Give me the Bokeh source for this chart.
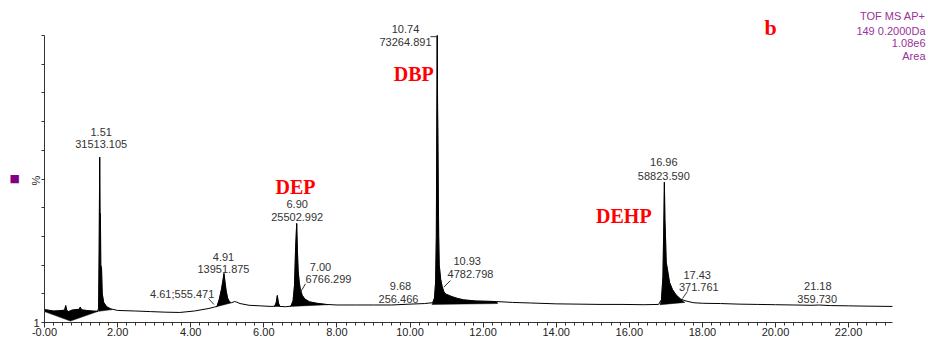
import numpy as np
from bokeh.plotting import figure
from bokeh.models import Range1d, FixedTicker, Label, NumeralTickFormatter
from bokeh.embed import file_html
from bokeh.resources import INLINE

# ---- chromatogram trace (retention time, relative intensity %) ----
trace_t = [0.00, 0.10, 0.25, 0.40, 0.55, 0.58, 0.61, 0.66, 0.75, 0.85, 0.95, 0.98, 1.01,
           1.15, 1.30, 1.45, 1.48, 1.495, 1.51, 1.52, 1.53, 1.54, 1.56, 1.58, 1.62, 1.70,
           1.80, 2.00, 2.50, 2.90, 3.30, 3.70, 4.10, 4.50, 4.65, 4.72, 4.78, 4.84, 4.88,
           4.91, 4.94, 4.97, 5.01, 5.06, 5.12, 5.20, 5.26, 5.35, 5.60, 5.90, 6.20, 6.30,
           6.34, 6.37, 6.40, 6.44, 6.60, 6.74, 6.80, 6.84, 6.87, 6.90, 6.92, 6.94, 6.97,
           7.00, 7.05, 7.12, 7.25, 7.45, 7.70, 8.00, 8.50, 9.00, 9.50, 10.00, 10.40, 10.62,
           10.67, 10.70, 10.72, 10.735, 10.745, 10.755, 10.765, 10.775, 10.785, 10.80,
           10.84, 10.88, 10.93, 11.00, 11.15, 11.30, 11.46, 11.80, 12.37, 12.80, 13.30,
           14.00, 14.60, 15.20, 15.80, 16.40, 16.80, 16.88, 16.92, 16.945, 16.96, 16.975,
           16.99, 17.01, 17.05, 17.10, 17.18, 17.28, 17.40, 17.55, 17.75, 18.00, 18.50,
           19.00, 19.50, 20.00, 20.50, 21.00, 21.18, 21.50, 22.00, 22.50, 23.20]
trace_pct = [4.5, 4.3, 4.0, 4.1, 4.3, 5.9, 4.2, 3.8, 4.3, 4.5, 4.6, 5.4, 4.4,
             4.2, 4.0, 3.9, 5.0, 25.0, 57.6, 38.0, 38.0, 20.0, 19.0, 10.0, 7.0, 5.5,
             4.8, 4.2, 4.0, 3.8, 3.6, 3.5, 4.0, 4.9, 5.4, 5.6, 8.0, 11.5, 14.5,
             17.1, 14.0, 11.0, 8.5, 7.2, 6.9, 7.3, 7.1, 6.6, 6.0, 5.8, 5.6, 5.7,
             7.0, 9.4, 6.8, 5.6, 5.5, 5.7, 7.5, 13.0, 26.0, 34.5, 25.0, 18.0, 14.0,
             11.5, 9.5, 8.2, 7.2, 6.7, 6.3, 6.1, 6.1, 6.1, 6.1, 6.4, 6.6, 6.9,
             8.5, 14.0, 30.0, 75.0, 100.0, 75.0, 62.0, 45.0, 30.0, 20.0,
             15.0, 12.5, 10.6, 9.8, 9.0, 8.4, 7.9, 7.5, 7.3, 7.0, 6.8,
             6.5, 6.4, 6.3, 6.3, 6.2, 6.3, 8.0, 16.0, 35.0, 48.9, 36.0,
             30.0, 21.0, 18.0, 14.0, 11.5, 9.6, 8.2, 7.5, 6.9, 6.7, 6.6,
             6.4, 6.3, 6.2, 6.1, 6.0, 6.1, 5.9, 5.8, 5.7, 5.6]

# integrated areas: baseline anchor points (time, %)
fill_base_t = [[0.00, 0.71, 1.47], [1.48, 1.85], [4.70, 5.10], [6.28, 6.45],
               [6.72, 7.75], [10.60, 12.40], [16.84, 17.52]]
fill_base_v = [[3.8, 0.5, 3.9], [3.9, 4.5], [5.5, 6.8], [5.6, 5.6],
               [5.6, 6.2], [6.3, 6.6], [6.2, 7.0]]

# peak annotations: text, time position, % position
ann_text = ["1.51", "31513.105", "4.91", "13951.875", "4.61;555.471",
            "6.90", "25502.992", "7.00", "6766.299", "10.74", "73264.891",
            "10.93", "4782.798", "9.68", "256.466", "16.96", "58823.590",
            "17.43", "371.761", "21.18", "359.730"]
ann_t = [1.551, 1.551, 4.897, 4.897, 3.767, 6.914, 6.914, 7.551, 7.770, 9.877, 9.877,
         11.565, 11.655, 9.740, 9.685, 16.944, 16.944, 17.858, 17.901, 21.157, 21.141]
ann_y = [66.3, 62.3, 22.75, 18.71, 10.0, 41.36, 36.69, 19.27, 15.23, 102.3, 97.66,
         21.6, 16.97, 12.65, 8.26, 55.85, 51.22, 16.38, 12.37, 12.89, 8.26]

# leader lines (from label to peak)
lead_t0 = [4.487, 7.141, 11.108, 17.59, 10.56]
lead_y0 = [8.36, 13.48, 14.63, 10.8, 99.6]
lead_t1 = [4.637, 7.004, 10.925, 17.456, 10.745]
lead_y1 = [6.27, 10.56, 12.3, 8.36, 99.6]

# compound names
cmp_text = ["DEP", "DBP", "DEHP", "b"]
cmp_t = [6.867, 10.104, 15.85, 19.863]
cmp_y = [47.14, 86.66, 37.28, 102.8]

info_lines = ["TOF MS AP+", "149 0.2000Da", "1.08e6", "Area"]
info_y = [106.97, 101.74, 97.32, 93.03]

x_major = list(range(0, 23, 2))
y_ticks = list(range(0, 101, 10))

p = figure(width=928, height=341, x_range=Range1d(-1.2038, 24.186), y_range=Range1d(-6.62, 112.2),
           output_backend="svg", toolbar_location=None,
           min_border_left=0, min_border_right=0, min_border_top=0, min_border_bottom=0)
p.outline_line_color = None
p.xgrid.visible = False
p.ygrid.visible = False
p.background_fill_color = "white"
p.border_fill_color = "white"

# x axis
xa = p.xaxis[0]
xa.fixed_location = 0
xa.bounds = (0, 23.2)
xa.ticker = FixedTicker(ticks=x_major, minor_ticks=[i * 0.25 for i in range(0, 93)])
xa.formatter = NumeralTickFormatter(format="0.00")
xa.major_label_overrides = {0: "-0.00"}
xa.major_tick_out = 5
xa.major_tick_in = 0
xa.minor_tick_out = 3
xa.minor_tick_in = 0
xa.axis_line_color = "#333333"
xa.major_tick_line_color = "#333333"
xa.minor_tick_line_color = "#333333"
xa.major_label_text_font = "Liberation Sans"
xa.major_label_text_font_size = "11px"
xa.major_label_text_color = "#222222"
xa.major_label_standoff = 0

# y axis
ya = p.yaxis[0]
ya.fixed_location = 0
ya.bounds = (0, 100)
ya.ticker = FixedTicker(ticks=y_ticks, minor_ticks=[])
ov = {v: "" for v in y_ticks}
ov[0] = "1"
ya.major_label_overrides = ov
ya.major_tick_out = 3
ya.major_tick_in = 0
ya.minor_tick_out = 0
ya.minor_tick_in = 0
ya.axis_line_color = "#333333"
ya.major_tick_line_color = "#333333"
ya.major_label_text_font = "Liberation Sans"
ya.major_label_text_font_size = "11px"
ya.major_label_text_color = "#222222"
ya.major_label_standoff = 2

tt = np.array(trace_t)
tv = np.array(trace_pct)
for bt, bv in zip(fill_base_t, fill_base_v):
    m = (tt >= bt[0]) & (tt <= bt[-1])
    xs = list(tt[m]) + list(bt[::-1])
    ys = list(tv[m]) + list(bv[::-1])
    p.patch(xs, ys, fill_color="black", line_color="black", line_width=0.5)

p.line(trace_t, trace_pct, line_color="black", line_width=1)

p.segment(x0=lead_t0, y0=lead_y0, x1=lead_t1, y1=lead_y1, line_color="#333333", line_width=1)

for s, x, y in zip(ann_text, ann_t, ann_y):
    p.add_layout(Label(x=x, y=y, text=s, text_align="center", text_baseline="middle",
                       text_font="Liberation Sans", text_font_size="11px", text_color="#333333"))

for s, x, y in zip(cmp_text, cmp_t, cmp_y):
    p.add_layout(Label(x=x, y=y, text=s, text_align="center", text_baseline="middle",
                       text_font="Liberation Serif", text_font_style="bold",
                       text_font_size="22px" if s == "b" else "20px", text_color="red"))

for s, y in zip(info_lines, info_y):
    p.add_layout(Label(x=24.104, y=y, text=s, text_align="right", text_baseline="middle",
                       text_font="Liberation Sans", text_font_size="11px", text_color="#993399"))

p.add_layout(Label(x=-0.246, y=49.48, text="%", angle=np.pi / 2, text_align="center",
                   text_baseline="middle", text_font="Liberation Sans",
                   text_font_size="11px", text_color="#222222"))
p.add_layout(Label(x=-0.813, y=50.07, text="\u25a0", text_align="center",
                   text_baseline="middle", text_font="DejaVu Sans",
                   text_font_size="11px", text_color="#800080"))

open("out.html", "w").write(file_html(p, INLINE))
